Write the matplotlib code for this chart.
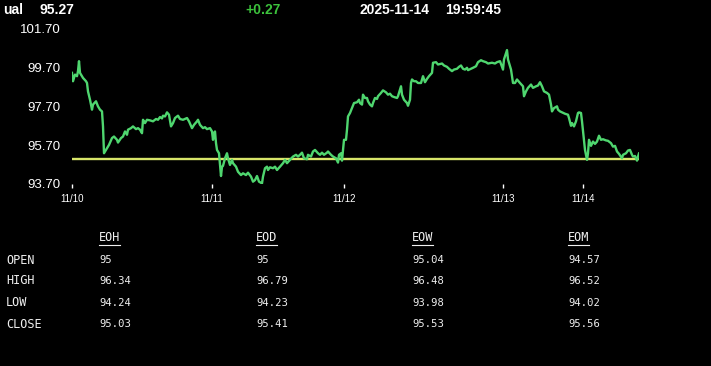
import matplotlib
matplotlib.use("Agg")
import matplotlib.pyplot as plt
from matplotlib.lines import Line2D

# header
symbol = "ual"
last_price = 95.27
change = "+0.27"
stamp_date = "2025-11-14"
stamp_time = "19:59:45"

# intraday series: sample index and price
idx = [0, 1, 3, 5, 6, 7, 8, 10, 11, 14, 15, 16, 18, 20, 21, 24, 26, 28, 30, 31,
       32, 35, 37, 40, 42, 45, 46, 49, 51, 53, 55, 56, 59, 61, 64, 66, 68, 70, 71, 73,
       75, 78, 81, 84, 86, 88, 90, 91, 93, 95, 97, 99, 101, 103, 106, 108, 111, 115, 117, 120,
       122, 125, 126, 128, 131, 133, 135, 138, 140, 141, 142, 143, 144, 145, 147, 148, 149, 150, 151, 153,
       155, 156, 158, 160, 161, 164, 166, 169, 171, 174, 176, 179, 181, 183, 185, 187, 190, 191, 193, 195,
       196, 198, 201, 203, 205, 208, 211, 213, 215, 218, 221, 224, 226, 228, 230, 232, 235, 236, 239, 241,
       243, 246, 248, 250, 252, 255, 256, 259, 261, 264, 266, 267, 269, 270, 272, 274, 275, 276, 278, 280,
       282, 285, 287, 288, 290, 291, 293, 295, 296, 298, 300, 301, 303, 305, 306, 309, 311, 314, 316, 318,
       320, 322, 325, 326, 328, 329, 330, 332, 335, 336, 338, 339, 340, 342, 344, 346, 349, 351, 353, 355,
       357, 360, 361, 364, 366, 370, 372, 375, 377, 380, 382, 385, 387, 389, 391, 393, 395, 396, 399, 401,
       404, 406, 409, 411, 414, 416, 420, 423, 425, 428, 431, 432, 435, 436, 439, 441, 443, 445, 448, 451,
       452, 454, 456, 459, 461, 464, 466, 468, 470, 472, 475, 477, 479, 480, 482, 485, 486, 488, 490, 493,
       496, 497, 499, 500, 502, 504, 506, 507, 509, 510, 512, 513, 515, 516, 517, 519, 521, 523, 525, 527,
       529, 531, 534, 536, 539, 541, 543, 545, 547, 550, 551, 554, 556, 558, 560, 561, 563, 565, 566, 567]
price = [99.41, 98.98, 99.32, 99.24, 99.50, 100.01, 99.41, 99.24, 99.15, 98.98, 98.89, 98.46, 98.03, 97.52, 97.78, 97.95, 97.69, 97.52, 97.43, 96.66,
         95.28, 95.54, 95.71, 96.06, 96.14, 95.97, 95.83, 96.06, 96.14, 96.40, 96.23, 96.49, 96.57, 96.66, 96.52, 96.57, 96.49, 96.31, 97.00, 96.83,
         97.00, 96.97, 96.92, 97.04, 97.00, 97.14, 97.07, 97.21, 97.17, 97.38, 97.26, 96.66, 96.83, 97.09, 97.21, 97.04, 97.00, 97.09, 96.92, 96.57,
         96.74, 96.92, 97.00, 96.74, 96.57, 96.62, 96.52, 96.57, 96.40, 95.97, 96.31, 96.40, 95.80, 95.45, 95.28, 94.68, 94.11, 94.59, 94.63, 95.02,
         95.28, 95.02, 94.68, 94.94, 94.77, 94.59, 94.33, 94.16, 94.25, 94.16, 94.28, 94.08, 93.82, 93.90, 94.11, 93.82, 93.73, 94.08, 94.51, 94.59,
         94.42, 94.56, 94.51, 94.59, 94.42, 94.59, 94.77, 94.94, 94.77, 94.94, 95.11, 95.20, 95.11, 95.20, 95.31, 95.02, 94.97, 95.20, 95.11, 95.37,
         95.45, 95.28, 95.20, 95.31, 95.20, 95.31, 95.37, 95.20, 95.11, 95.02, 94.80, 95.20, 95.28, 94.90, 95.97, 95.97, 96.49, 97.17, 97.35, 97.60,
         97.86, 97.90, 98.03, 97.86, 97.78, 98.29, 98.12, 98.12, 97.95, 97.78, 97.69, 97.86, 98.12, 98.07, 98.21, 98.38, 98.51, 98.41, 98.29, 98.34,
         98.21, 98.17, 98.12, 98.21, 98.55, 98.72, 98.29, 98.03, 97.86, 97.72, 98.03, 98.89, 99.07, 98.98, 98.98, 98.89, 98.89, 99.24, 98.93, 99.10,
         99.24, 99.41, 99.93, 99.96, 99.84, 99.89, 99.79, 99.72, 99.62, 99.50, 99.58, 99.62, 99.72, 99.79, 99.62, 99.58, 99.67, 99.55, 99.62, 99.67,
         99.75, 99.96, 100.06, 100.01, 99.96, 99.89, 99.93, 99.89, 99.96, 100.01, 99.58, 100.10, 100.58, 100.10, 99.58, 98.89, 98.89, 99.07, 98.89, 98.72,
         98.21, 98.46, 98.64, 98.81, 98.64, 98.72, 98.76, 98.93, 98.72, 98.46, 98.38, 98.29, 97.78, 97.43, 97.60, 97.69, 97.52, 97.43, 97.38, 97.31,
         97.26, 97.09, 96.69, 96.83, 96.66, 96.92, 97.35, 97.38, 97.35, 96.92, 95.97, 95.45, 94.94, 95.28, 95.97, 95.66, 95.88, 95.76, 95.88, 96.18,
         95.97, 96.00, 95.94, 95.92, 95.80, 95.62, 95.66, 95.37, 95.25, 95.02, 95.20, 95.28, 95.42, 95.45, 95.20, 95.11, 95.14, 94.90, 95.11, 95.27]
prev_close = 95.00

tick_idx = [0, 140, 272, 431, 511]
tick_lab = ["11/10", "11/11", "11/12", "11/13", "11/14"]
y_ticks = [93.70, 95.70, 97.70, 99.70, 101.70]

# summary table
cols = ["EOH", "EOD", "EOW", "EOM"]
rows = ["OPEN", "HIGH", "LOW", "CLOSE"]
open_vals = ["95", "95", "95.04", "94.57"]
high_vals = ["96.34", "96.79", "96.48", "96.52"]
low_vals = ["94.24", "94.23", "93.98", "94.02"]
close_vals = ["95.03", "95.41", "95.53", "95.56"]

W, H = 711, 366
fig = plt.figure(figsize=(W / 100, H / 100), dpi=100, facecolor="black")
ax = fig.add_axes([72 / W, (H - 184) / H, 567 / W, 155.7 / H], facecolor="black")

ax.plot(idx, price, color="#4fd66f", lw=1.7, zorder=3)
ax.axhline(prev_close, color="#d8e66a", lw=1.7, zorder=2)

ax.set_xlim(0, 567)
ax.set_ylim(93.70, 101.70)
ax.set_yticks(y_ticks)
ax.set_yticklabels(["%.2f" % v for v in y_ticks], fontfamily="Liberation Sans", fontsize=9.5, color="white")
ax.tick_params(axis="y", length=0, pad=8)
ax.set_xticks(tick_idx)
ax.set_xticklabels(tick_lab, fontfamily="Liberation Sans", fontsize=7, color="white")
ax.tick_params(axis="x", length=3, width=1, color="white", pad=4, direction="out")
for s in ax.spines.values():
    s.set_visible(False)

# header line
hf = dict(fontfamily="Liberation Sans", fontsize=10, fontweight="bold", va="center")
fig.text(3 / W, 1 - 10 / H, symbol, color="white", **hf)
fig.text(40 / W, 1 - 10 / H, "%.2f" % last_price, color="white", **hf)
fig.text(245 / W, 1 - 10 / H, change, color="#3cc23c", **hf)
fig.text(359 / W, 1 - 10 / H, stamp_date, color="white", **hf)
fig.text(445 / W, 1 - 10 / H, stamp_time, color="white", **hf)

# table
tf = dict(fontfamily="DejaVu Sans Mono", fontsize=7.6, color="#f0f0f0", va="center")
lf = dict(tf, fontsize=8.6)
col_x = [99, 256, 412, 568]
row_y = [260, 281, 303, 324]
renderer = fig.canvas.get_renderer()
for c, x in zip(cols, col_x):
    t = fig.text(x / W, 1 - 238 / H, c, **lf)
    bb = t.get_window_extent(renderer)
    fig.add_artist(Line2D([bb.x0 / W, bb.x1 / W], [1 - 245 / H, 1 - 245 / H], color="#f0f0f0", lw=0.8))
table = [open_vals, high_vals, low_vals, close_vals]
for r, y, vals in zip(rows, row_y, table):
    fig.text(6 / W, 1 - y / H, r, **lf)
    for x, v in zip(col_x, vals):
        fig.text(x / W, 1 - y / H, v, **tf)

fig.savefig("out.png", dpi=100, facecolor="black")
